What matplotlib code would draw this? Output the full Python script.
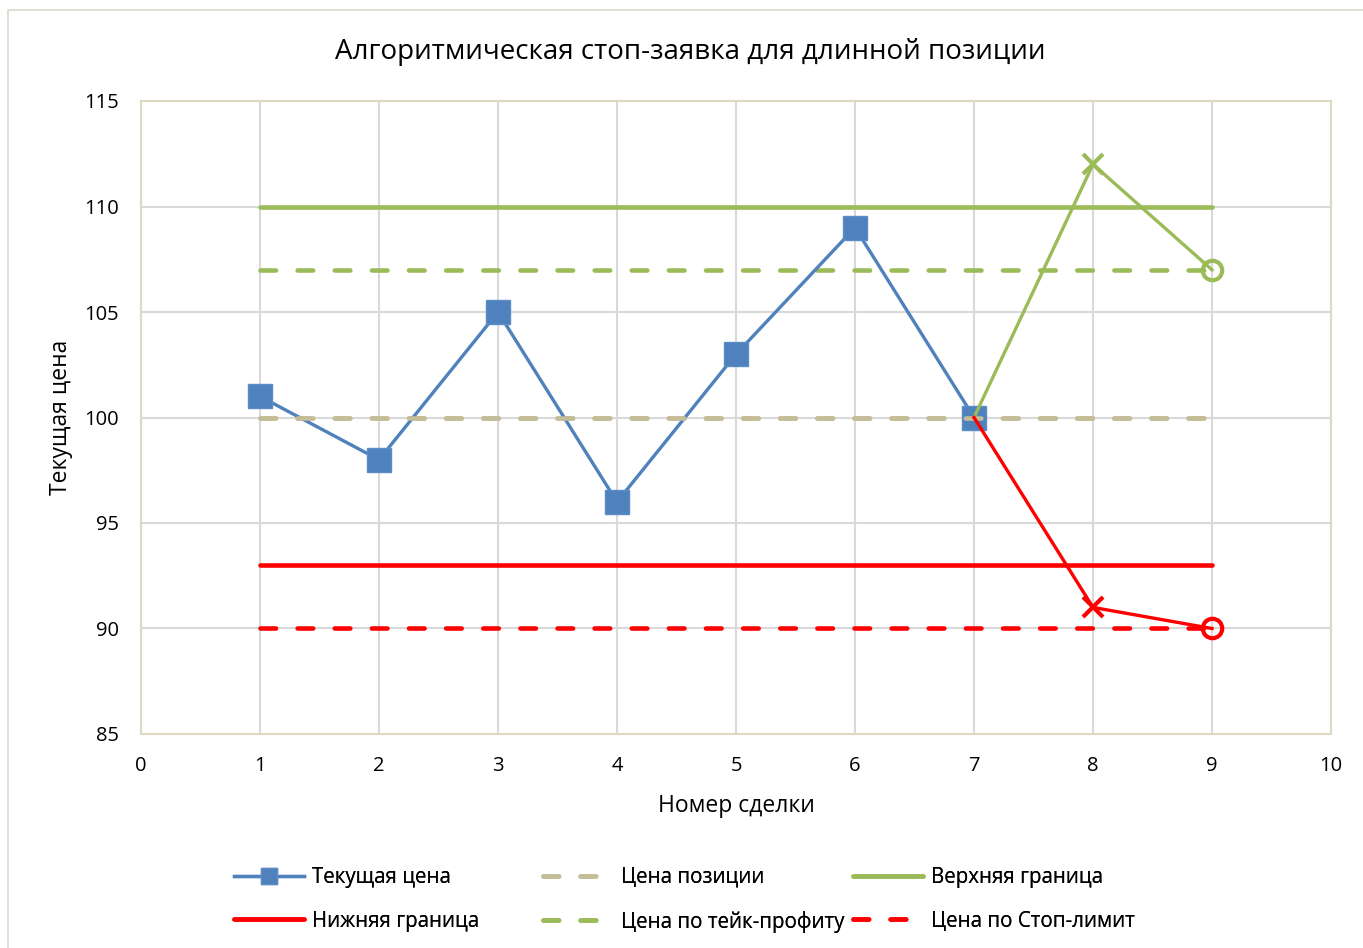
import matplotlib.pyplot as plt
from matplotlib.patches import Rectangle

# ---- data ----
trades = [1, 2, 3, 4, 5, 6, 7]
price = [101, 98, 105, 96, 103, 109, 100]

levels_x = [1, 9]
entry_price = [100, 100]
upper_bound = [110, 110]
lower_bound = [93, 93]
take_profit = [107, 107]
stop_limit = [90, 90]

# exit paths after trade 7
tp_x = [7, 8, 9]
tp_path = [100, 112, 107]
sl_x = [7, 8, 9]
sl_path = [100, 91, 90]

BLUE = '#4f81bd'
TAN = '#c4bd97'
GREEN = '#9bbb59'
RED = '#ff0000'

plt.rcParams['font.family'] = ['Open Sans', 'DejaVu Sans']

W, H = 1363, 948
fig = plt.figure(figsize=(W / 100, H / 100), dpi=100)
ax = fig.add_axes([141 / W, 1 - 734 / H, 1190 / W, 633 / H])

# outer chart border (only the visible top/left edges)
fig.patches.append(Rectangle((8 / W, -0.01), 1.1, (H - 10) / H + 0.01,
                             transform=fig.transFigure, fill=False,
                             edgecolor='#d9d9cc', lw=1.2))

dash = (0, (3.4, 4.7))
lw_lvl = 3.3
l_entry, = ax.plot(levels_x, entry_price, color=TAN, lw=lw_lvl, linestyle=dash,
                   dash_capstyle='round', label='Цена позиции')
l_upper, = ax.plot(levels_x, upper_bound, color=GREEN, lw=lw_lvl,
                   solid_capstyle='round', label='Верхняя граница')
l_tp, = ax.plot(levels_x, take_profit, color=GREEN, lw=lw_lvl, linestyle=dash,
                dash_capstyle='round', label='Цена по тейк-профиту')
l_lower, = ax.plot(levels_x, lower_bound, color=RED, lw=lw_lvl,
                   solid_capstyle='round', label='Нижняя граница')
l_sl, = ax.plot(levels_x, stop_limit, color=RED, lw=lw_lvl, linestyle=dash,
                dash_capstyle='round', label='Цена по Стоп-лимит')

l_price, = ax.plot(trades, price, color=BLUE, lw=2.4, marker='s', markersize=17,
                   markerfacecolor=BLUE, markeredgecolor='#5b8cc6', label='Текущая цена',
                   zorder=3)
# entry line drawn again over the price markers like in the original
ax.plot(levels_x, entry_price, color=TAN, lw=lw_lvl, linestyle=dash,
        dash_capstyle='round', zorder=3.5)

ax.plot(tp_x, tp_path, color=GREEN, lw=2.4, zorder=4)
ax.plot(tp_x[1], tp_path[1], marker='x', color=GREEN, markersize=15, mew=3, zorder=4)
ax.plot(tp_x[2], tp_path[2], marker='o', color=GREEN, markersize=14, mew=3,
        markerfacecolor='none', zorder=4)
ax.plot(sl_x, sl_path, color=RED, lw=2.4, zorder=4)
ax.plot(sl_x[1], sl_path[1], marker='x', color=RED, markersize=15, mew=3, zorder=4)
ax.plot(sl_x[2], sl_path[2], marker='o', color=RED, markersize=14, mew=3,
        markerfacecolor='none', zorder=4)

ax.set_xlim(0, 10)
ax.set_ylim(85, 115)
ax.set_xticks(range(0, 11))
ax.set_yticks(range(85, 116, 5))
ax.grid(True, color='#d9d9d9', lw=1.5)
ax.set_axisbelow(True)
ax.tick_params(length=0, labelsize=14.5, pad=16)
for s in ax.spines.values():
    s.set_color('#ddd9c3')
    s.set_linewidth(1.5)

fig.text(690 / W, 1 - 52 / H, 'Алгоритмическая стоп-заявка для длинной позиции',
         fontsize=20, ha='center', va='center')
ax.set_xlabel('Номер сделки', fontsize=16.5, labelpad=13)
ax.set_ylabel('Текущая цена', fontsize=16.5, labelpad=8)

# legend: three single-column legends so columns get equal width like Excel
columns = [(234, [l_price, l_lower]), (543, [l_entry, l_tp]), (853, [l_upper, l_sl])]
for x0, hs in columns:
    leg = fig.legend(hs, [h.get_label() for h in hs], loc='upper left',
                     bbox_to_anchor=(x0 / W, 1 - 867 / H), frameon=False, fontsize=14.8,
                     handlelength=3.4, handletextpad=0.4, labelspacing=1.1,
                     borderpad=0, borderaxespad=0, markerscale=0.7)
    fig.add_artist(leg)

fig.savefig('out.png', dpi=100)
